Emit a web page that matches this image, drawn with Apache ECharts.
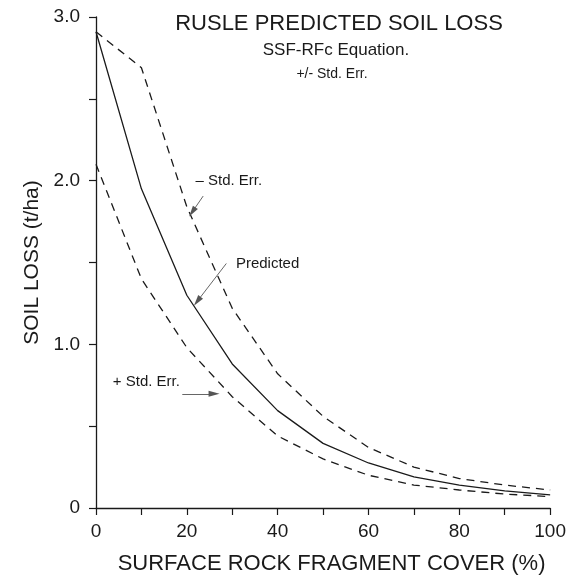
<!DOCTYPE html>
<html>
<head>
<meta charset="utf-8">
<script src="https://cdn.jsdelivr.net/npm/echarts@6/dist/echarts.min.js"></script>
<style>
  html, body { margin: 0; padding: 0; background: #fff; }
  #chart { width: 569px; height: 580px; }
</style>
</head>
<body>
<div id="chart"></div>
<script>
// rock fragment cover (%)
const cover = [0, 10, 20, 30, 40, 50, 60, 70, 80, 90, 100]
// soil loss (t/ha)
const predicted = [2.91, 1.95, 1.30, 0.88, 0.595, 0.395, 0.275, 0.19, 0.14, 0.105, 0.08]
const minusErr = [2.91, 2.69, 1.84, 1.22, 0.82, 0.56, 0.37, 0.25, 0.18, 0.14, 0.11]
const plusErr = [2.10, 1.40, 0.98, 0.68, 0.44, 0.30, 0.20, 0.14, 0.11, 0.085, 0.07]

const xLabels = { 0: '0', 20: '20', 40: '40', 60: '60', 80: '80', 100: '100' }
const yLabels = { 0: '0', 1: '1.0', 2: '2.0', 3: '3.0' }

// annotations in data units: [text, x, y] and arrows [x1, y1, x2, y2]
const notes = [
  ['– Std. Err.', 21.9, 2.0],
  ['Predicted', 30.8, 1.494],
  ['+ Std. Err.', 3.7, 0.771],
]
const arrows = [
  [23.6, 1.906, 21.2, 1.809],
  [28.7, 1.494, 22.3, 1.263],
  [19.0, 0.698, 26.0, 0.698],
]

const font = '"Liberation Sans", Arial, Helvetica, sans-serif'
const ink = '#1a1a1a'

const chart = echarts.init(document.getElementById('chart'), null, { renderer: 'canvas' })

const pair = (ys) => cover.map((x, i) => [x, ys[i]])

chart.setOption({
  backgroundColor: '#fff',
  animation: false,
  textStyle: { fontFamily: font, color: ink },
  grid: { left: 96, right: 16, top: 17, bottom: 69 },
  graphic: [
    { type: 'text', x: 339, y: 24, style: { text: 'RUSLE PREDICTED SOIL LOSS', font: '22px ' + font, fill: ink, textAlign: 'center', textVerticalAlign: 'middle' } },
    { type: 'text', x: 336, y: 50, style: { text: 'SSF-RFc Equation.', font: '17px ' + font, fill: ink, textAlign: 'center', textVerticalAlign: 'middle' } },
    { type: 'text', x: 332, y: 74, style: { text: '+/- Std. Err.', font: '14px ' + font, fill: ink, textAlign: 'center', textVerticalAlign: 'middle' } },
  ],
  xAxis: {
    type: 'value',
    min: 0,
    max: 100,
    interval: 10,
    name: 'SURFACE ROCK FRAGMENT COVER (%)',
    nameLocation: 'middle',
    nameGap: 45,
    nameTextStyle: { fontSize: 22, color: ink, fontFamily: font, padding: [0, 0, 0, 17] },
    axisLine: { lineStyle: { color: ink, width: 1.3 } },
    axisTick: { length: 7, lineStyle: { color: ink, width: 1.2 } },
    axisLabel: {
      margin: 14,
      fontSize: 19,
      color: ink,
      formatter: (v) => xLabels[v] ?? '',
    },
    splitLine: { show: false },
  },
  yAxis: {
    type: 'value',
    min: 0,
    max: 3,
    interval: 0.5,
    name: 'SOIL LOSS (t/ha)',
    nameLocation: 'middle',
    nameGap: 50,
    nameTextStyle: { fontSize: 21, color: ink, fontFamily: font },
    axisLine: { show: true, lineStyle: { color: ink, width: 1.3 } },
    axisTick: { show: true, length: 7, lineStyle: { color: ink, width: 1.2 } },
    axisLabel: {
      margin: 16,
      fontSize: 19,
      color: ink,
      formatter: (v) => yLabels[v] ?? '',
    },
    splitLine: { show: false },
  },
  series: [
    {
      name: 'Predicted',
      type: 'line',
      data: pair(predicted),
      symbol: 'none',
      lineStyle: { color: ink, width: 1.3 },
      markPoint: {
        symbol: 'circle',
        symbolSize: 0,
        silent: true,
        label: {
          show: true,
          position: 'right',
          distance: 0,
          fontSize: 15,
          color: ink,
          fontFamily: font,
          formatter: (p) => p.name,
        },
        data: notes.map((n) => ({ name: n[0], coord: [n[1], n[2]] })),
      },
      markLine: {
        silent: true,
        symbol: ['none', 'triangle'],
        symbolSize: [6, 11],
        label: { show: false },
        lineStyle: { color: '#555', width: 0.9, type: 'solid' },
        data: arrows.map((a) => [{ coord: [a[0], a[1]] }, { coord: [a[2], a[3]] }]),
      },
    },
    {
      name: '- Std. Err.',
      type: 'line',
      data: pair(minusErr),
      symbol: 'none',
      lineStyle: { color: ink, width: 1.3, type: [8, 6] },
    },
    {
      name: '+ Std. Err.',
      type: 'line',
      data: pair(plusErr),
      symbol: 'none',
      lineStyle: { color: ink, width: 1.3, type: [8, 6] },
    },
  ],
})
</script>
</body>
</html>
